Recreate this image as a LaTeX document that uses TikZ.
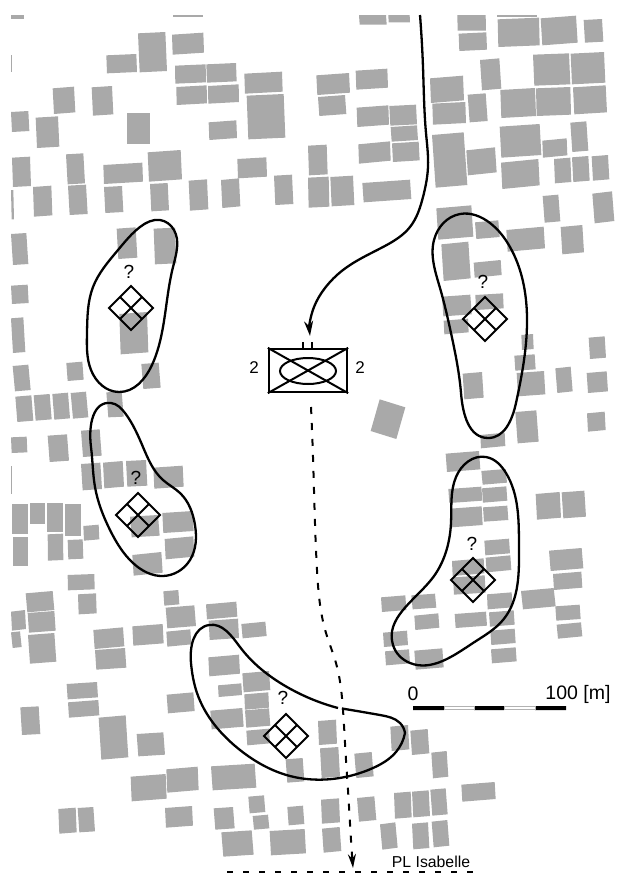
\documentclass[tikz,border=0pt]{standalone}
\usepackage{fontspec}
\setmainfont{Liberation Sans}
\usetikzlibrary{arrows.meta,shapes.geometric,hobby}
\definecolor{bld}{HTML}{A9A9A9}
\newcommand{\Blds}[3]{%
  \begin{scope}[shift={(#1,#2)},x=0.33333pt,y=-0.33333pt]
    \foreach \a/\b/\c/\d/\e/\f in {#3}{
      \fill[bld] (\a,\b)--(\c,\d)--(\e,\f)--({\a+\e-\c},{\b+\f-\d})--cycle;
    }
  \end{scope}}
\newcommand{\Sq}[2]{%
  \draw[sqline] (#1-22,#2)--(#1,#2-22)--(#1+22,#2)--(#1,#2+22)--cycle
    (#1-11,#2-11)--(#1+11,#2+11) (#1-11,#2+11)--(#1+11,#2-11);}
\tikzset{
  sqline/.style={line width=2pt,line join=miter},
  contour/.style={line width=2.3pt,line join=round,use Hobby shortcut},
  qmark/.style={font=\fontsize{19}{21}\selectfont,inner sep=0pt},
  sizelabel/.style={font=\fontsize{17}{19}\selectfont,inner sep=0pt},
  scalelabel/.style={font=\fontsize{19.5}{22}\selectfont,inner sep=0pt},
}
\begin{document}
\begin{tikzpicture}[x=1pt,y=-1pt]
\useasboundingbox (0,0) rectangle (626,873);
\begin{scope}
\clip (11,15) rectangle (626,873);
\Blds{0}{0}{33/45/72/45/72/56,519/45/610/45/610/50,319/166/409/162/411/216,414/100/496/96/501/213,516/104/610/98/612/158,525/197/617/193/618/247,619/193/708/189/710/244,529/261/620/256/621/310,624/258/716/253/717/306,733/221/846/215/848/275,740/287/851/282/856/413,158/265/222/260/226/337,275/262/336/258/340/343,33/336/85/333/88/393,107/353/174/349/178/440,380/339/449/339/449/433,626/367/709/361/711/414,36/473/90/470/93/558,198/463/250/460/255/550,310/495/427/488/429/545,443/457/542/450/546/538,712/477/799/472/801/530,99/561/154/557/157/646,204/557/258/554/263/642,312/561/366/558/370/636,450/552/503/549/507/631,566/542/621/538/625/628,663/540/717/535/721/619,822/527/876/524/880/612,33/570/40/570/42/658,33/702/79/699/85/792,350/686/407/682/412/773,461/686/525/683/529/790,33/857/83/854/86/909,33/165/36/165/36/215}
\Blds{313}{0}{-15/437/41/434/44/523,-15/533/47/530/49/620,52/531/120/527/124/615,138/45/219/45/221/74,226/45/290/45/291/67,433/45/518/45/519/92,437/101/520/97/522/149,551/45/673/45/673/50,554/58/678/53/680/136,683/55/789/47/794/128,812/60/867/57/871/125,501/180/559/175/565/266,660/164/768/160/772/253,773/161/873/156/877/248,351/235/450/227/453/301,358/311/457/306/459/369,464/284/518/280/524/363,562/270/666/264/669/348,669/265/772/261/774/344,780/262/878/256/882/337,131/323/226/316/228/374,229/318/309/314/312/373,233/381/312/376/315/420,237/430/317/425/320/481,136/433/231/424/233/482,10/226/108/219/111/278,128/212/223/206/225/263,15/291/96/285/100/342,772/368/820/364/826/452,357/405/452/397/463/555,460/451/546/442/551/517,560/380/680/372/685/465,688/422/761/415/763/466,723/477/772/473/775/546,777/472/826/468/830/542,836/469/885/465/889/538,564/488/676/477/680/556,148/549/291/539/295/597,370/625/475/616/481/710,486/667/556/661/560/711,689/588/736/584/742/664,838/581/897/574/904/663,580/690/692/680/696/745,743/681/808/675/813/757,385/733/466/725/473/835,482/788/563/780/566/825}
\Blds{0}{290}{358/72/441/66/445/187,33/85/70/82/76/186,38/228/85/224/92/300,199/219/247/215/251/269,424/222/476/218/482/293,46/320/94/316/100/392,101/316/149/312/155/388,157/312/204/308/210/385,212/309/258/305/265/382,319/307/365/305/371/380,33/442/80/440/82/487,143/437/201/433/207/512,243/422/299/418/305/497,243/522/301/518/306/597,309/518/368/513/372/590,378/513/438/510/442/587,460/533/548/527/551/590,33/527/36/527/36/612,37/641/85/641/85/732,90/640/135/640/135/703,140/640/190/640/190/725,195/641/242/641/242/737,250/708/296/704/298/748,38/742/85/742/85/828,143/733/189/731/190/810,203/750/248/748/250/806,390/680/474/675/479/737,487/669/578/663/581/723,494/747/580/739/583/800,397/795/484/786/488/848,203/855/283/852/284/898}
\Blds{313}{290}{387/20/472/14/476/73,487/15/570/10/572/55,392/92/465/86/467/127,625/135/660/132/662/177,604/197/665/193/668/238,827/143/875/139/879/203,727/235/773/230/779/304,821/249/881/244/885/304,611/249/693/243/697/313,449/251/507/246/512/323,822/370/875/365/878/420,607/366/670/361/677/455,502/435/575/428/577/468,398/491/498/483/502/538,505/543/578/537/582/578,406/597/505/590/508/632,507/595/580/589/583/632,412/656/506/649/509/705,510/652/583/647/586/690,514/752/588/746/591/790,518/803/592/796/595/840,417/813/512/805/514/850,420/862/515/856/518/908,668/612/740/606/744/683,746/607/814/602/819/680,708/782/806/774/811/835,720/852/805/845/808/893,200/328/277/352/250/447}
\Blds{313}{580}{204/52/277/46/280/90,295/46/366/41/370/83,304/107/376/100/379/143,425/102/519/95/522/137,522/43/596/37/598/82,528/97/602/91/605/134,624/33/722/24/728/79,727/79/800/74/803/117,731/134/804/127/808/169,532/152/605/146/608/189,534/208/608/202/611/244,210/158/282/152/285/195,216/214/288/208/291/250,304/212/388/205/392/262,15/423/69/419/72/491,21/505/76/501/81/590,124/521/176/516/182/589,232/440/285/435/289/508,292/452/344/447/349/520,355/518/401/513/406/590,445/614/545/606/548/657,24/659/78/655/81/727,132/654/184/649/190/720,243/639/293/635/296/712,297/635/347/631/351/708,352/629/398/625/404/703,201/733/247/727/254/803,27/746/80/741/85/813,297/731/345/727/349/804,356/725/403/720/409/797}
\Blds{0}{580}{234/43/288/40/290/100,77/40/158/33/163/90,83/99/163/93/167/152,33/95/75/90/78/147,33/157/60/154/65/201,84/165/163/159/169/245,280/150/369/142/373/199,285/210/375/204/379/263,397/139/488/132/491/190,490/34/535/30/538/73,497/83/583/76/588/138,499/155/571/148/574/193,618/73/709/65/712/110,626/122/714/116/717/174,724/132/796/125/800/168,625/232/717/224/720/281,654/316/724/310/726/345,727/280/807/273/811/330,733/343/805/337/807/383,735/391/807/385/811/437,500/344/580/337/584/393,631/392/727/384/731/440,739/452/807/446/810/490,200/312/291/306/294/352,204/367/295/360/298/406,296/413/377/406/385/532,61/382/116/379/121/462,410/462/490/457/495/524,392/590/497/582/500/656,499/568/593/560/596/630,633/559/764/551/769/623,857/538/908/534/913/604,175/687/227/683/230/757,233/684/280/681/285/754,495/684/576/678/579/737,641/685/699/681/704/745,745/650/792/646/796/696,758/708/804/704/808/745,862/681/909/677/913/732,664/757/755/751/761/824,809/753/914/747/918/820}
\end{scope}

% areas
\draw[contour,closed=true] (160,220)..(174,230)..(173,267)..(163,327)..(152,365)..(119,392)..(91,370)..(87,333)..(93,287)..(118,250)..(140,227);
\draw[contour,closed=true] (111,403)..(91,447)..(95,487)..(110,530)..(133,563)..(163,576)..(190,560)..(195,525)..(180,493)..(163,480)..(143,447)..(125,413);
\draw[contour,closed=true] (460,214)..(434,240)..(440,288)..(451,333)..(461,393)..(488,438)..(516,403)..(527,317)..(510,247)..(490,223);
\draw[contour,closed=true] (486,457)..(456,477)..(451,523)..(431,580)..(393,645)..(410,663)..(473,643)..(503,620)..(519,547)..(506,473);
\draw[contour] (342,708.5)..(380,715)..(400,723)..(405,733);
\draw[contour] (405,733)..(396,752)..(373,768)..(345,777)..(290,776)..(240,750)..(197,693)..(191,663)..(209,625)..(240,647)..(287,687)..(338,708);

% possible positions
\Sq{131}{308}
\Sq{138}{515}
\Sq{485}{319}
\Sq{473}{580}
\Sq{286}{736}
\node[qmark] (q1) at (129,272) {?};
\node[qmark] (q2) at (136,478) {?};
\node[qmark] (q3) at (483,282) {?};
\node[qmark] (q4) at (472,544) {?};
\node[qmark] (q5) at (283,698) {?};

% unit symbol
\node[draw,line width=2.3pt,minimum width=78pt,minimum height=43pt,inner sep=0pt] (unit) at (308,370.5) {};
\draw[line width=2pt] (unit.north west)--(unit.south east) (unit.south west)--(unit.north east);
\node[draw,ellipse,line width=2pt,minimum width=56pt,minimum height=26pt,inner sep=0pt] (oval) at (308,371) {};
\draw[line width=1.4pt] (303,342)--(303,348) (312,342)--(312,348);
\node[sizelabel] (lsize) at (254,368) {2};
\node[sizelabel] (rsize) at (360,368) {2};

% movement
\draw[line width=2.3pt,use Hobby shortcut,-{Stealth[length=15pt,width=9pt]}] (420,15)..(423,67)..(426,133)..(428,167)..(423,197)..(410,227)..(383,247)..(343,270)..(325,288)..(314,307)..(310,336);
\draw[line width=2pt,dash pattern=on 7pt off 9pt,use Hobby shortcut,-{Stealth[length=14pt,width=8pt]}] (311,407)..(313,457)..(317,570)..(326,633)..(336,663)..(343,710)..(346,760)..(348,790)..(351,840)..(353,868);

% phase line
\node[inner sep=0pt,font=\fontsize{15.8}{18}\selectfont] (pl) at (431,862) {PL Isabelle};
\coordinate (plw) at (227,872);
\coordinate (ple) at (473,872);
\draw[line width=1.8pt,dash pattern=on 6pt off 10pt] (plw)--(ple);

% scale bar
\fill[black] (413,706) rectangle (444,710) (474,706) rectangle (504,710) (535,706) rectangle (566,710);
\draw[gray!60,line width=0.6pt] (444,706.3) rectangle (474,709.7) (504,706.3) rectangle (535,709.7);
\node[scalelabel] (s0) at (413,694) {0};
\node[scalelabel] (s100) at (578,694) {100 [m]};
\end{tikzpicture}
\end{document}
